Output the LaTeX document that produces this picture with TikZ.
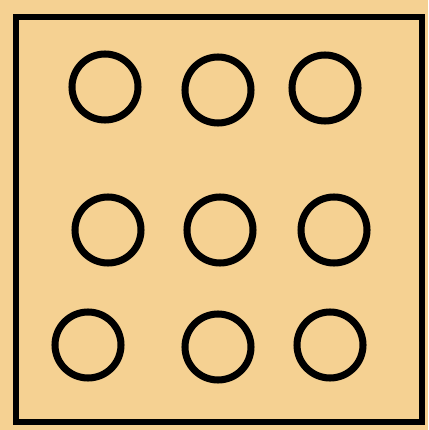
\documentclass[tikz,border=0pt]{standalone}
\definecolor{paper}{RGB}{245,209,146}
\begin{document}
\begin{tikzpicture}[x=0.03cm,y=-0.03cm]
  \fill[paper](0,0) rectangle (428,430);
  \useasboundingbox(0,0) rectangle (428,430);
  \draw[line width=5.5pt](16,17) rectangle (422,422);
  \draw[line width=6pt](105,87) circle (33);
  \draw[line width=6pt](218,90) circle (33);
  \draw[line width=6pt](325,88) circle (33);
  \draw[line width=6pt](108,230) circle (33);
  \draw[line width=6pt](220,230) circle (33);
  \draw[line width=6pt](334,230) circle (33);
  \draw[line width=6pt](88,345) circle (33);
  \draw[line width=6pt](218,347) circle (33);
  \draw[line width=6pt](330,345) circle (33);
\end{tikzpicture}
\end{document}
